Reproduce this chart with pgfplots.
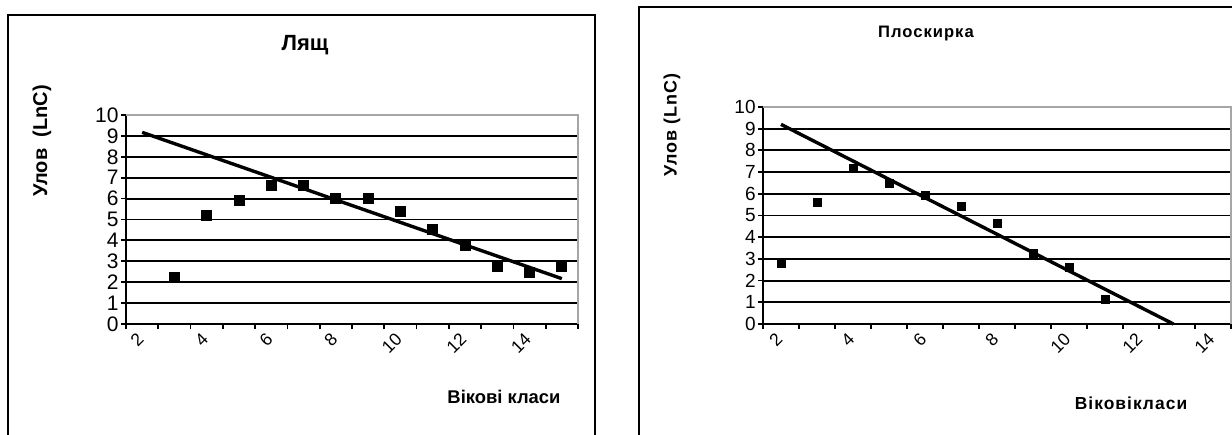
\documentclass[border=0pt]{standalone}
\usepackage{fontspec}
\setmainfont{Liberation Sans}
\newfontfamily\spaced[LetterSpace=6]{Liberation Sans}
\usepackage{pgfplots}
\pgfplotsset{compat=1.18}

% one chart in the style of the old Excel sheet
\pgfplotsset{excel/.style={
    scale only axis, anchor=south west, clip=false,
    axis x line*=bottom, axis y line*=left,
    axis line style={line width=1pt},
    ymin=0, ymax=10,
    ytick={1,...,9}, extra y ticks={0,10}, extra y tick style={grid=none},
    ymajorgrids, grid style={black, line width=0.95pt},
    tick align=outside, tick style={black, line width=0.9pt},
    major tick length=2.5pt, minor tick length=2.5pt,
    major x tick style={draw=none},
    /pgf/number format/assume math mode=true,
    xticklabel style={rotate=45, anchor=east, inner sep=1pt},
    xticklabel shift=3pt,
    yticklabel style={inner sep=1pt},
}}

\begin{document}
\begin{tikzpicture}
\useasboundingbox (0,0) rectangle (616pt,217pt);
\clip (0,0) rectangle (616pt,217pt);
\draw[line width=0.8pt] (4pt,209.5pt) rectangle (297.5pt,-10pt);
\draw[line width=0.8pt] (319.5pt,213.5pt) rectangle (640pt,-10pt);

% Лящ
\begin{axis}[excel,
    at={(63pt,55pt)}, width=226pt, height=104.5pt,
    xmin=1.5, xmax=15.5,
    xtick={2,4,...,14}, minor xtick={1.5,2.5,...,15.5},
    xticklabel style={font=\fontsize{8.8}{9}\selectfont},
    yticklabel style={font=\fontsize{10.5}{11}\selectfont},
]
\addplot[only marks, mark=square*, mark size=2.5pt, black] coordinates {
    (3,2.25) (4,5.22) (5,5.9) (6,6.63) (7,6.65) (8,6.02) (9,6.0)
    (10,5.41) (11,4.52) (12,3.78) (13,2.75) (14,2.47) (15,2.77)
};
\addplot[black, line width=1.7pt] coordinates {(2,9.17) (15,2.17)};
\draw[gray!70, line width=0.6pt] (rel axis cs:0,1) -- (rel axis cs:1,1) -- (rel axis cs:1,0);
\end{axis}

% Плоскирка
\begin{axis}[excel,
    at={(381.5pt,55pt)}, width=234pt, height=108.5pt,
    xmin=1.5, xmax=14.5,
    xtick={2,4,...,14}, minor xtick={1.5,2.5,...,14.5},
    xticklabel style={font=\fontsize{8.8}{9}\selectfont},
    yticklabel style={font=\fontsize{9.5}{10}\selectfont},
]
\addplot[only marks, mark=square*, mark size=2pt, black] coordinates {
    (2,2.78) (3,5.61) (4,7.18) (5,6.49) (6,5.91) (7,5.42) (8,4.64)
    (9,3.27) (10,2.59) (11,1.12)
};
\addplot[black, line width=1.7pt] coordinates {(2,9.2) (12.9,0)};
\draw[gray!70, line width=0.6pt] (rel axis cs:0,1) -- (rel axis cs:1,1) -- (rel axis cs:1,0);
\end{axis}

\node[font=\bfseries\fontsize{11}{12}\selectfont] at (152.5pt,194.5pt) {Лящ};
\node[font=\bfseries\fontsize{10}{11}\selectfont, rotate=90] at (21pt,146.5pt) {Улов~~(LnC)};
\node[font=\bfseries\fontsize{9.2}{10}\selectfont] at (252pt,18.5pt) {Вікові класи};

\node[font=\spaced\bfseries\fontsize{8.3}{10}\selectfont] at (463pt,200pt) {Плоскирка};
\node[font=\spaced\bfseries\fontsize{9}{11}\selectfont, rotate=90] at (336pt,154.5pt) {Улов (LnC)};
\node[font=\spaced\bfseries\fontsize{8.7}{10}\selectfont] at (565.5pt,15.5pt) {Вікові\hspace{0.5pt}класи};
\end{tikzpicture}
\end{document}
